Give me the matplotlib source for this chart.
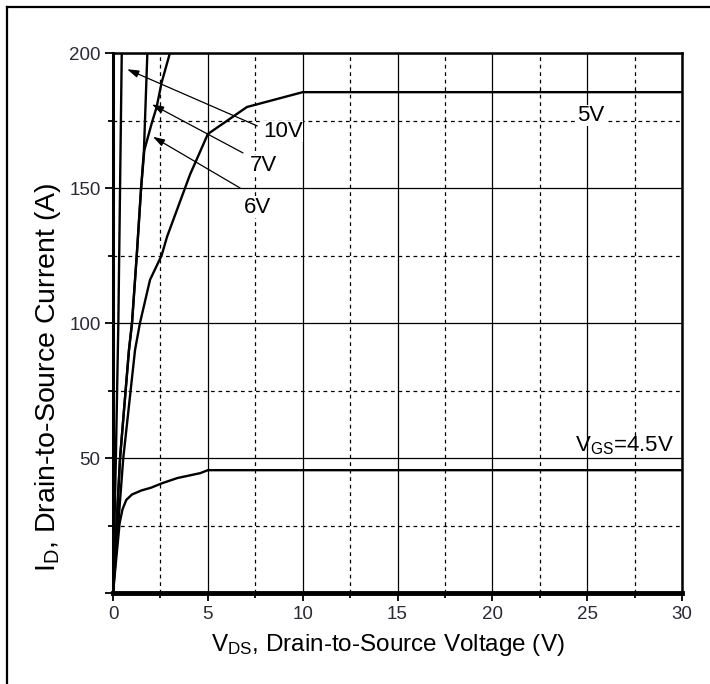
import matplotlib
matplotlib.use('Agg')
import matplotlib.pyplot as plt
from matplotlib.lines import Line2D

plt.rcParams['font.family'] = ['Liberation Sans', 'DejaVu Sans']
plt.rcParams['mathtext.fontset'] = 'custom'
plt.rcParams['mathtext.rm'] = 'Liberation Sans'
plt.rcParams['mathtext.default'] = 'regular'

# output curves (V_DS in V, I_D in A)
vds_10v = [0, 0.15, 0.28, 0.46]
id_10v = [0, 50, 100, 200]
vds_7v = [0, 0.37, 0.84, 1.0, 1.25, 1.48, 1.63, 1.81]
id_7v = [0, 50, 90, 100, 125, 150, 164, 200]
vds_6v = [0, 0.37, 0.84, 1.0, 1.25, 1.48, 1.65, 2.04, 2.3, 2.56, 3.0]
id_6v = [0, 50, 90, 100, 125, 150, 164, 174, 180, 189, 200]
vds_5v = [0, 0.54, 1.16, 1.42, 1.95, 2.56, 2.85, 4.06, 5.0, 7.06, 10, 30]
id_5v = [0, 50, 90, 100, 116, 125, 132, 155, 170, 180, 185.5, 185.5]
vds_45v = [0, 0.2, 0.35, 0.5, 0.7, 1.0, 1.5, 2.0, 2.6, 3.4, 4.0, 4.6, 5.0, 30]
id_45v = [0, 15, 26, 31, 34.5, 36.5, 38, 39, 40.7, 42.6, 43.5, 44.4, 45.5, 45.5]

# curve labels: text, position, arrow tail, arrow head
label_text = ['10V', '7V', '6V']
label_pos = [(7.9, 171), (7.2, 158.5), (6.9, 142.6)]
arrow_tail = [(7.6, 173), (6.85, 163), (6.7, 150)]
arrow_head = [(0.74, 194), (2.05, 181), (2.1, 169)]

x_ticks = [0, 5, 10, 15, 20, 25, 30]
y_ticks = [0, 50, 100, 150, 200]
y_ticklabels = ['', '50', '100', '150', '200']

fig = plt.figure(figsize=(7.1, 6.84), dpi=100)
ax = fig.add_axes([0.1592, 0.1330, 0.8014, 0.7895])

for vx, iy in [(vds_10v, id_10v), (vds_7v, id_7v), (vds_6v, id_6v),
               (vds_5v, id_5v), (vds_45v, id_45v)]:
    ax.plot(vx, iy, color='black', lw=1.7, zorder=3)

ax.set_xlim(0, 30)
ax.set_ylim(0, 200)
ax.set_xticks(x_ticks)
ax.set_xticks([2.5 + 5 * i for i in range(6)], minor=True)
ax.set_yticks(y_ticks)
ax.set_yticklabels(y_ticklabels)
ax.set_yticks([25, 75, 125, 175], minor=True)

ax.grid(which='major', color='black', lw=0.9, ls='-', zorder=1)
ax.grid(which='minor', color='black', lw=0.9, ls=(0, (3, 3)), zorder=1)
ax.set_axisbelow(True)

ax.tick_params(which='major', direction='out', length=6, width=1.3,
               labelsize=13.5, labelcolor='#2a2a35', pad=3)
ax.tick_params(which='minor', direction='out', length=3.5, width=1.3)

ax.spines['bottom'].set_linewidth(3.5)
ax.spines['left'].set_linewidth(2.2)
ax.spines['top'].set_linewidth(1.8)
ax.spines['right'].set_linewidth(1.8)

for t, p, tail, head in zip(label_text, label_pos, arrow_tail, arrow_head):
    ax.annotate('', xy=head, xytext=tail,
                arrowprops=dict(arrowstyle='-|>,head_length=0.7,head_width=0.22',
                                color='black', lw=0.9, shrinkA=0, shrinkB=0),
                zorder=4)
    ax.text(p[0], p[1], t, fontsize=16, ha='left', va='center', zorder=5,
            bbox=dict(facecolor='white', edgecolor='none', pad=0))

ax.text(25.2, 177, '5V', fontsize=16, ha='center', va='center', zorder=5,
        bbox=dict(facecolor='white', edgecolor='none', pad=0))
ax.text(24.35, 52.3, r'$\mathregular{V_{GS}}$=4.5V', fontsize=16,
        ha='left', va='baseline', zorder=5)

ax.text(0.483, -0.096, r'$\mathregular{V_{DS}}$, Drain-to-Source Voltage (V)',
        transform=ax.transAxes, fontsize=17.5, ha='center', va='center')
ax.text(-0.114, 0.40, r'$\mathregular{I_{D}}$, Drain-to-Source Current (A)',
        transform=ax.transAxes, fontsize=20.5, ha='center', va='center',
        rotation=90)

# frame around the whole figure (only top and left edges show)
fig.add_artist(Line2D([7 / 710, 1], [1 - 7 / 684, 1 - 7 / 684],
                      transform=fig.transFigure, color='black', lw=1.6))
fig.add_artist(Line2D([7 / 710, 7 / 710], [0, 1 - 7 / 684],
                      transform=fig.transFigure, color='black', lw=1.6))

fig.savefig('out.png', dpi=100)
